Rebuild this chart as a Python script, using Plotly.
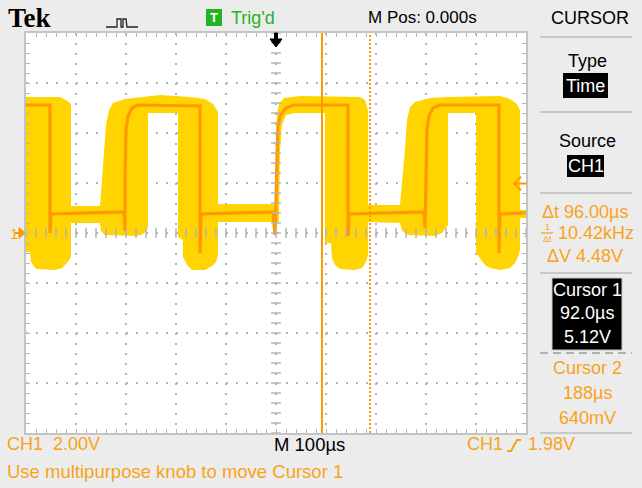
import numpy as np
import plotly.graph_objects as go

# CH1 2.00 V/div, M 100 us/div, M Pos 0.000 s ; time in us, voltage in V
trace_t = [-500, -452, -452, -450, -304, -302, -302, -300, -296, -288, -276,
           -152, -152, -150, -6, -2, 0, 2, 4, 10, 20, 36,
           144, 144, 146, 296, 298, 300, 302, 306, 314, 328,
           446, 446, 448, 500]
trace_v = [5.12, 5.12, 0.00, 0.76, 0.84, 0.08, 2.12, 4.12, 4.68, 5.00, 5.12,
           5.08, -0.80, 0.76, 0.84, -0.08, 1.32, 3.32, 4.32, 4.76, 5.00, 5.12,
           5.12, -0.12, 0.76, 0.84, 0.20, 2.12, 4.12, 4.68, 5.00, 5.12,
           5.12, -0.80, 0.76, 0.80]

# persistence envelope (upper edge, then lower edge, left to right)
env_up_t = [-500, -432, -420, -410, -410, -352, -348, -344, -340, -334, -326, -302, -272,
            -232, -172, -142, -126, -116, -116, -2, 0, 2, 6, 16, 48,
            168, 178, 184, 184, 248, 258, 262, 268, 278, 308, 344,
            448, 468, 482, 488, 488, 500]
env_up_v = [5.44, 5.44, 5.32, 5.16, 1.08, 1.08, 2.12, 3.32, 4.32, 4.92, 5.20, 5.36, 5.44,
            5.52, 5.44, 5.36, 5.16, 4.84, 1.16, 1.16, 3.72, 4.72, 5.16, 5.40, 5.48,
            5.44, 5.32, 4.92, 1.12, 1.12, 3.32, 4.52, 5.04, 5.24, 5.40, 5.44,
            5.48, 5.36, 5.16, 4.92, 0.92, 0.92]
env_lo_t = [-500, -492, -490, -480, -442, -428, -418, -410, -410,
            -352, -350, -342, -278, -266, -258, -256, -256,
            -196, -196, -186, -186, -178, -168, -142, -128, -120, -116, -116,
            -4, 6, 8, 12, 20, 38,
            98, 98, 110, 112, 118, 128, 158, 172, 180, 184, 184,
            248, 252, 264, 318, 332, 340, 344, 344,
            400, 400, 408, 418, 428, 448, 468, 478, 484, 488, 488, 500]
env_lo_v = [-0.76, -0.76, -1.16, -1.44, -1.48, -1.40, -1.20, -0.96, 0.40,
            0.40, 0.08, -0.08, -0.12, -0.04, 0.12, 0.28, 4.80,
            4.80, -0.16, -0.28, -0.96, -1.28, -1.48, -1.48, -1.32, -1.16, -0.88, 0.44,
            0.44, 0.44, 3.32, 4.32, 4.72, 4.80,
            4.80, -0.40, -0.40, -1.00, -1.28, -1.44, -1.48, -1.40, -1.16, -0.88, 0.44,
            0.40, 0.08, -0.08, -0.12, 0.00, 0.20, 0.32, 4.80,
            4.80, -0.80, -1.00, -1.28, -1.40, -1.48, -1.40, -1.20, -0.96, -0.68, 0.60, 0.60]

cursor_t = [92.0, 188.0]          # us
trig_level = 1.98                 # V
time_per_div = 100                # us
volt_per_div = 2.0                # V

# ---------------- styling ----------------
YELLOW = "#FFD400"
ORANGE = "#FF9900"
TXT_OR = "#F9A31A"
GREEN = "#22B422"
BG = "#ECECEC"
GRID = "#B4B4B4"
FONT = "Liberation Sans, Arial, sans-serif"

W, H = 642, 488
L, R, T, B = 26, 526, 33, 433


def px(x):
    return (x - L) / (R - L)


def py(y):
    return (B - y) / (B - T)


fig = go.Figure()

env_t = env_up_t + env_lo_t[::-1]
env_v = env_up_v + env_lo_v[::-1]
fig.add_trace(go.Scatter(x=env_t, y=env_v, mode="lines", fill="toself",
                         fillcolor=YELLOW, line=dict(width=0), hoverinfo="skip"))
fig.add_trace(go.Scatter(x=trace_t, y=trace_v, mode="lines",
                         line=dict(color=ORANGE, width=3.2), hoverinfo="skip"))

# centre-line ticks
yt = np.arange(-20, 21) * volt_per_div / 5
xt = np.arange(-25, 26) * time_per_div / 5
fig.add_trace(go.Scatter(x=np.zeros_like(yt), y=yt, mode="markers",
                         marker=dict(symbol="line-ew", size=7, line=dict(color=GRID, width=1.5)),
                         hoverinfo="skip"))
fig.add_trace(go.Scatter(x=xt, y=np.zeros_like(xt), mode="markers",
                         marker=dict(symbol="line-ns", size=7, line=dict(color=GRID, width=1.5)),
                         hoverinfo="skip"))

axis_common = dict(showgrid=True, gridcolor=GRID, griddash="2px,8px", gridwidth=1.5,
                   zeroline=False, showticklabels=False, ticks="inside", ticklen=4,
                   tickcolor="#B8B8B8", showline=True, linecolor="#C4C4C4", linewidth=2,
                   mirror="allticks", fixedrange=True)
fig.update_xaxes(range=[-5 * time_per_div, 5 * time_per_div], dtick=time_per_div, tick0=0,
                 minor=dict(dtick=time_per_div / 5, ticks="inside", ticklen=4,
                            tickcolor="#B8B8B8", showgrid=False), **axis_common)
fig.update_yaxes(range=[-4 * volt_per_div, 4 * volt_per_div], dtick=volt_per_div, tick0=0,
                 minor=dict(dtick=volt_per_div / 5, ticks="inside", ticklen=4,
                            tickcolor="#B8B8B8", showgrid=False), **axis_common)

shapes = []
# cursors
shapes.append(dict(type="line", xref="x", yref="paper", x0=cursor_t[0], x1=cursor_t[0],
                   y0=0, y1=1, line=dict(color=ORANGE, width=2)))
shapes.append(dict(type="line", xref="x", yref="paper", x0=cursor_t[1], x1=cursor_t[1],
                   y0=0, y1=1, line=dict(color=ORANGE, width=2, dash="2px,2px")))
# trigger position arrow (top, black)
shapes.append(dict(type="path", xref="paper", yref="paper",
                   path=f"M{px(274.5)},{py(33)} L{px(277.5)},{py(33)} L{px(277.5)},{py(39)} "
                        f"L{px(282)},{py(39)} L{px(276)},{py(47)} L{px(270)},{py(39)} "
                        f"L{px(274.5)},{py(39)} Z",
                   fillcolor="black", line=dict(color="black", width=1)))
# trigger level marker (right edge)
dv = 0.27
shapes.append(dict(type="path", xref="paper", yref="y",
                   path=f"M{px(521)},{trig_level + dv} L{px(514)},{trig_level} L{px(521)},{trig_level - dv}",
                   line=dict(color=ORANGE, width=2)))
shapes.append(dict(type="line", xref="paper", yref="y", x0=px(514), x1=px(527),
                   y0=trig_level, y1=trig_level, line=dict(color=ORANGE, width=2)))
# CH1 ground marker (left)
shapes.append(dict(type="line", xref="paper", yref="y", x0=px(15), x1=px(21),
                   y0=0, y1=0, line=dict(color=ORANGE, width=2)))
shapes.append(dict(type="path", xref="paper", yref="y",
                   path=f"M{px(19)},0.22 L{px(25)},0 L{px(19)},-0.22 Z",
                   fillcolor=ORANGE, line=dict(color=ORANGE, width=1)))

# right panel separators
for yy in [37, 112, 193, 273, 433]:
    shapes.append(dict(type="line", xref="paper", yref="paper", x0=px(540), x1=px(632),
                       y0=py(yy), y1=py(yy), line=dict(color="#C8C8C8", width=2)))
shapes.append(dict(type="line", xref="paper", yref="paper", x0=px(540), x1=px(632),
                   y0=py(353), y1=py(353), line=dict(color="#B0B0B0", width=2, dash="8px,5px")))
# black boxes
shapes.append(dict(type="rect", xref="paper", yref="paper", x0=px(563), x1=px(608),
                   y0=py(73), y1=py(98), fillcolor="black", line=dict(width=0)))
shapes.append(dict(type="rect", xref="paper", yref="paper", x0=px(567), x1=px(604),
                   y0=py(155), y1=py(177), fillcolor="black", line=dict(width=0)))
shapes.append(dict(type="rect", xref="paper", yref="paper", x0=px(552), x1=px(622),
                   y0=py(278), y1=py(350), fillcolor="black", line=dict(color="#C8C8C8", width=1)))
# green trig box
shapes.append(dict(type="rect", xref="paper", yref="paper", x0=px(206), x1=px(222),
                   y0=py(9), y1=py(26), fillcolor=GREEN, line=dict(width=0)))
# acquisition icon
icon = (f"M{px(106)},{py(27)} L{px(117)},{py(27)} L{px(117)},{py(19)} L{px(121)},{py(19)} "
        f"L{px(121)},{py(27)} L{px(123)},{py(27)} L{px(123)},{py(19)} L{px(126)},{py(19)} "
        f"L{px(127)},{py(27)} L{px(138)},{py(27)}")
shapes.append(dict(type="path", xref="paper", yref="paper", path=icon,
                   line=dict(color="#222222", width=1.3)))
# rising-edge symbol in trigger readout
shapes.append(dict(type="path", xref="paper", yref="paper",
                   path=f"M{px(507)},{py(451)} L{px(511)},{py(451)} L{px(517)},{py(440)} L{px(521)},{py(440)}",
                   line=dict(color=TXT_OR, width=2)))
# fraction bar for 1/dt
shapes.append(dict(type="line", xref="paper", yref="paper", x0=px(541), x1=px(553),
                   y0=py(233), y1=py(233), line=dict(color=TXT_OR, width=1.3)))

ann = []


def text(x, y, s, color="black", size=17, anchor="center", family=FONT, bold=False):
    if bold:
        s = f"<b>{s}</b>"
    ann.append(dict(x=px(x), y=py(y), xref="paper", yref="paper", text=s, showarrow=False,
                    xanchor=anchor, yanchor="middle", font=dict(color=color, size=size, family=family)))


text(6, 18, "Tek", size=27, anchor="left", family="Liberation Serif, serif", bold=True)
text(214, 18, "T", color="white", size=13, bold=True)
text(229, 18, "Trig'd", color=GREEN, size=18, anchor="left")
text(366, 18, "M Pos: 0.000s", size=17, anchor="left")
text(590, 18, "CURSOR", size=18)

text(587, 61, "Type", size=18)
text(585.5, 86, "Time", color="white", size=18)
text(587, 141, "Source", size=18)
text(585.5, 166, "CH1", color="white", size=18)
text(585, 212, "\u0394t 96.00\u00b5s", color=TXT_OR, size=18)
text(547, 227, "1", color=TXT_OR, size=9)
text(547, 239, "\u0394t", color=TXT_OR, size=9)
text(596, 233, "10.42kHz", color=TXT_OR, size=18)
text(585, 256, "\u0394V 4.48V", color=TXT_OR, size=18)
text(587, 290, "Cursor 1", color="white", size=18)
text(587, 313, "92.0\u00b5s", color="white", size=18)
text(587, 337, "5.12V", color="white", size=18)
text(587, 368, "Cursor 2", color=TXT_OR, size=18)
text(587, 393, "188\u00b5s", color=TXT_OR, size=18)
text(587, 418, "640mV", color=TXT_OR, size=18)

text(8, 233, "1", color=TXT_OR, size=15, anchor="left")
text(5, 444, "CH1  2.00V", color=TXT_OR, size=18, anchor="left")
text(272, 444, "M 100\u00b5s", size=18.5, anchor="left")
text(465, 444, "CH1", color=TXT_OR, size=18, anchor="left")
text(526, 444, "1.98V", color=TXT_OR, size=18, anchor="left")
text(5, 471, "Use multipurpose knob to move Cursor 1", color=TXT_OR, size=18.5, anchor="left")

fig.update_layout(width=W, height=H, margin=dict(l=L, r=W - R, t=T, b=H - B, pad=0),
                  paper_bgcolor=BG, plot_bgcolor="white", showlegend=False,
                  shapes=shapes, annotations=ann, hovermode=False)

fig.write_html("out.html", config={"displayModeBar": False},
               post_script="document.body.style.margin='0';document.body.style.overflow='hidden';")
